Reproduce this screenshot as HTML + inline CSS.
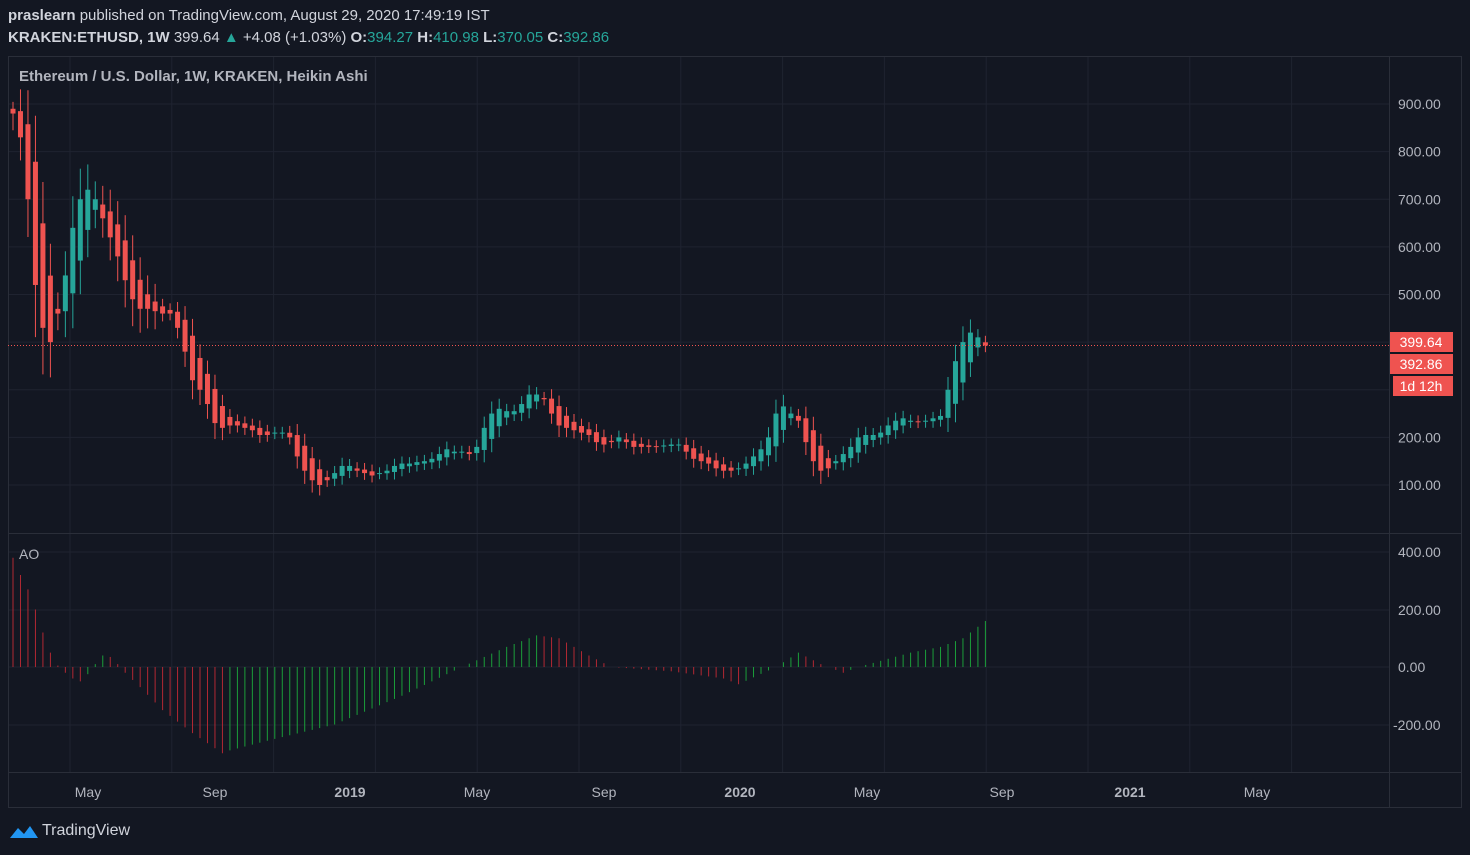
<!DOCTYPE html>
<html><head><meta charset="utf-8"><style>
html,body{margin:0;padding:0;background:#131722;width:1470px;height:855px;overflow:hidden;font-family:"Liberation Sans",sans-serif}
.t{position:absolute;color:#d1d4dc;font-size:15px;white-space:nowrap}
</style></head><body>
<div class="t" style="left:8px;top:7px"><b>praslearn</b> published on TradingView.com, August 29, 2020 17:49:19 IST</div>
<div class="t" style="left:8px;top:29px"><b>KRAKEN:ETHUSD, 1W</b> 399.64 <span style="color:#26a69a">▲</span> +4.08 (+1.03%) <b>O:</b><span style="color:#26a69a">394.27</span> <b>H:</b><span style="color:#26a69a">410.98</span> <b>L:</b><span style="color:#26a69a">370.05</span> <b>C:</b><span style="color:#26a69a">392.86</span></div>
<svg id="s" width="1470" height="855" style="position:absolute;left:0;top:0"></svg>
<script>
var S=document.getElementById('s'),h='';
function L(x1,y1,x2,y2,c,w,d){h+='<line x1="'+x1+'" y1="'+y1+'" x2="'+x2+'" y2="'+y2+'" stroke="'+c+'" stroke-width="'+(w||1)+'"'+(d?' stroke-dasharray="'+d+'"':'')+'/>';}
function T(x,y,s,c,sz,a,b){h+='<text x="'+x+'" y="'+y+'" fill="'+c+'" font-size="'+sz+'" text-anchor="'+(a||'start')+'"'+(b?' font-weight="bold"':'')+' font-family="Liberation Sans,sans-serif">'+s+'</text>';}
var G='#1f2330';
for(var x=70;x<1389;x+=101.8)L(x,56,x,772,G);
for(var p=100;p<=900;p+=100){var y=485-(p-100)*0.47625;L(8,y,1389,y,G);T(1398,y+5,p.toFixed(2),'#b2b5be',14);}
[[400,552],[200,610],[0,667],[-200,725]].forEach(function(a){L(8,a[1],1389,a[1],G);T(a[0]<0?1393:1398,a[1]+5,a[0].toFixed(2),'#b2b5be',14);});
h+='<rect x="8.5" y="56.5" width="1453" height="751" fill="none" stroke="#2a2e39"/>';
L(1389.5,56,1389.5,807,'#2a2e39');L(8,533.5,1462,533.5,'#2a2e39');L(8,772.5,1462,772.5,'#2a2e39');
var tl=[[88,'May'],[215,'Sep'],[350,'2019',1],[477,'May'],[604,'Sep'],[740,'2020',1],[867,'May'],[1002,'Sep'],[1130,'2021',1],[1257,'May']];
tl.forEach(function(a){T(a[0],797,a[1],'#b2b5be',14,'middle',a[2]);});
T(19,81,'Ethereum / U.S. Dollar, 1W, KRAKEN, Heikin Ashi','#b2b5be',15,'start',1);
T(19,559,'AO','#b2b5be',14);
var c=[880,830,700,520,430,400,460,540,640,700,720,700,660,620,580,530,490,470,470,465,460,460,430,380,320,300,270,230,220,225,225,220,215,205,205,210,210,200,160,130,110,100,110,125,140,140,130,125,120,125,130,140,145,145,148,150,155,165,175,170,170,165,180,220,250,260,255,255,270,290,290,280,250,225,220,215,210,205,190,185,190,200,190,180,180,180,180,183,185,185,170,155,150,145,135,130,130,135,145,160,175,200,250,265,250,235,190,150,130,135,150,165,180,200,205,205,210,225,235,240,235,232,235,240,245,300,360,400,420,410,393];
function Y(p){return 485-(p-100)*0.47625;}
var o=890;
for(var i=0;i<c.length;i++){var x=13+7.48*i,op=o,cl=c[i];if(i==130){op=399.6;cl=392.9;}
var g=cl>=op,col=g?'#26a69a':'#ef5350',hi=Math.max(op,cl)+Math.abs(cl-op)*0.25+12+(i<20&&i>0?20:0),lo=Math.min(op,cl)-Math.abs(cl-op)*0.3-12-(i<20?20:0);
L(x,Y(hi),x,Y(lo),col);var t=Y(Math.max(op,cl)),b=Y(Math.min(op,cl));h+='<rect x="'+(x-2.5)+'" y="'+t+'" width="5" height="'+Math.max(1,b-t)+'" fill="'+col+'"/>';
o=(op+cl)/2;}
L(8,345.5,1389,345.5,'#ef5350',1,'1 2');
h+='<rect x="1390" y="332" width="63" height="20" fill="#ef5350"/><rect x="1390" y="354" width="63" height="20" fill="#ef5350"/><rect x="1393" y="376" width="60" height="20" fill="#ef5350"/>';
T(1421,347,'399.64','#fff',14,'middle');T(1421,369,'392.86','#fff',14,'middle');T(1421,391,'1d 12h','#fff',14,'middle');
var k=[[0,380],[1,320],[2,270],[3,200],[4,120],[5,50],[6,5],[7,-20],[8,-40],[9,-50],[10,-25],[11,10],[12,40],[13,35],[14,10],[15,-20],[17,-70],[20,-150],[24,-230],[28,-300],[29,-290],[35,-250],[43,-200],[52,-100],[60,0],[66,70],[70,110],[73,100],[77,40],[80,0],[88,-15],[95,-40],[97,-60],[102,0],[105,50],[108,10],[111,-20],[113,0],[120,50],[124,70],[127,100],[130,160]];
var v=[];for(var j=0;j<k.length-1;j++){for(var i=k[j][0];i<k[j+1][0];i++){var f=(i-k[j][0])/(k[j+1][0]-k[j][0]);v[i]=k[j][1]+f*(k[j+1][1]-k[j][1]);}}v[130]=160;
for(var i=0;i<v.length;i++){var x=13+7.48*i,col=(i>0&&v[i]>v[i-1])?'#1b9e3a':'#b22833';L(x,667,x,667-v[i]*0.2875,col);}
S.innerHTML=h;
</script>
<svg style="position:absolute;left:8px;top:822px" width="32" height="18"><path d="M2 16 L10 6 L16 12 L22 4 L30 16 Z" fill="#2196f3"/></svg>
<div class="t" style="left:42px;top:822px;font-size:16px">TradingView</div>
</body></html>
